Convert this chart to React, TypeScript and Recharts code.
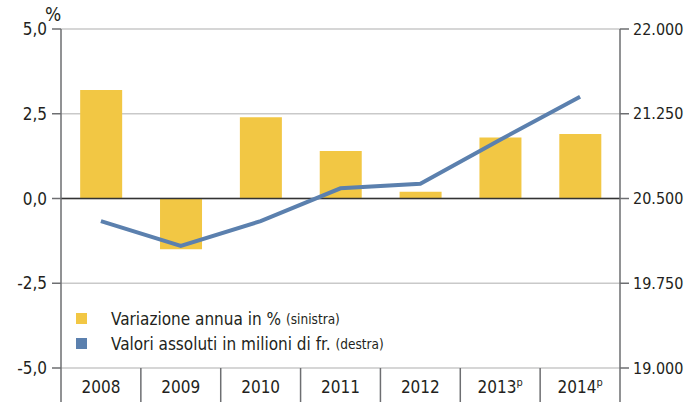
import React from "react";
import {
  Bar,
  CartesianGrid,
  ComposedChart,
  Line,
  ReferenceLine,
  XAxis,
  YAxis,
} from "recharts";

const years = ["2008", "2009", "2010", "2011", "2012", "2013", "2014"];
const provisional = [false, false, false, false, false, true, true];
const changePct = [3.2, -1.5, 2.4, 1.4, 0.2, 1.8, 1.9];
const absoluteMio = [20300, 20080, 20300, 20590, 20630, 21020, 21400];
const leftTicks = [-5, -2.5, 0, 2.5, 5];
const rightTicks = [19000, 19750, 20500, 21250, 22000];

const data = years.map((year, i) => ({
  year,
  provisional: provisional[i],
  change: changePct[i],
  absolute: absoluteMio[i],
}));

const W = 688;
const H = 405;
const PLOT_LEFT = 61;
const PLOT_RIGHT = 620;
const PLOT_TOP = 29;
const PLOT_BOTTOM = 368;
const BAND = (PLOT_RIGHT - PLOT_LEFT) / years.length;

const FONT = "'Liberation Sans Narrow', 'Arial Narrow', 'DejaVu Sans Condensed', sans-serif";
const TEXT = "#231f20";
const YELLOW = "#f2c744";
const BLUE = "#5b80ae";
const AXIS = "#6d6e71";

const fmtLeft = (v: number) => v.toFixed(1).replace(".", ",");
const fmtRight = (v: number) => v.toLocaleString("de-DE");

function YearTick(props: any) {
  const { x, payload, index } = props;
  const row = data[index];
  const left = x - BAND / 2;
  return (
    <g>
      <line x1={left} x2={left} y1={PLOT_BOTTOM} y2={H - 3} stroke={AXIS} strokeWidth={1.5} />
      {index === years.length - 1 && (
        <line x1={x + BAND / 2} x2={x + BAND / 2} y1={PLOT_BOTTOM} y2={H - 3} stroke={AXIS} strokeWidth={1.5} />
      )}
      <text x={x} y={393} textAnchor="middle" fontFamily={FONT} fontSize={17} fill={TEXT}>
        {payload.value}
        {row && row.provisional && (
          <tspan fontSize={11} dy={-7}>
            p
          </tspan>
        )}
      </text>
    </g>
  );
}

function LegendBox() {
  const items = [
    { color: YELLOW, label: "Variazione annua in %", note: "(sinistra)" },
    { color: BLUE, label: "Valori assoluti in milioni di fr.", note: "(destra)" },
  ];
  return (
    <div style={{ position: "absolute", left: 76, top: 306, fontFamily: FONT, color: TEXT }}>
      {items.map((it) => (
        <div key={it.label} style={{ display: "flex", alignItems: "center", height: 25 }}>
          <span style={{ width: 11, height: 11, backgroundColor: it.color, marginRight: 24 }} />
          <span style={{ fontSize: 17 }}>{it.label}</span>
          <span style={{ fontSize: 13.5, marginLeft: 5 }}>{it.note}</span>
        </div>
      ))}
    </div>
  );
}

export default function App() {
  return (
    <div style={{ position: "absolute", left: 0, top: 0, width: W, height: H, background: "#fff" }}>
      <ComposedChart
        width={W}
        height={H}
        data={data}
        margin={{ top: PLOT_TOP, right: 0, left: 0, bottom: 0 }}
        barCategoryGap="24%"
      >
        <CartesianGrid yAxisId="left" vertical={false} stroke="#c9c9c9" strokeWidth={1.5} />
        <XAxis
          dataKey="year"
          axisLine={false}
          tickLine={false}
          interval={0}
          height={H - PLOT_BOTTOM}
          tick={<YearTick />}
        />
        <YAxis
          yAxisId="left"
          orientation="left"
          width={PLOT_LEFT}
          domain={[-5, 5]}
          ticks={leftTicks}
          tickFormatter={fmtLeft}
          axisLine={{ stroke: AXIS, strokeWidth: 1.5 }}
          tickLine={{ stroke: AXIS, strokeWidth: 1.5 }}
          tickSize={9}
          tickMargin={5}
          tick={{ fontFamily: FONT, fontSize: 17, fill: TEXT }}
        />
        <YAxis
          yAxisId="right"
          orientation="right"
          width={W - PLOT_RIGHT}
          domain={[19000, 22000]}
          ticks={rightTicks}
          tickFormatter={fmtRight}
          axisLine={{ stroke: AXIS, strokeWidth: 1.5 }}
          tickLine={{ stroke: AXIS, strokeWidth: 1.5 }}
          tickSize={9}
          tickMargin={4}
          tick={{ fontFamily: FONT, fontSize: 16, fill: TEXT }}
        />
        <Bar yAxisId="left" dataKey="change" fill={YELLOW} isAnimationActive={false} />
        <ReferenceLine yAxisId="left" y={0} stroke="#333" strokeWidth={1.5} />
        <Line
          yAxisId="right"
          dataKey="absolute"
          stroke={BLUE}
          strokeWidth={4}
          dot={false}
          activeDot={false}
          isAnimationActive={false}
        />
      </ComposedChart>
      <div style={{ position: "absolute", left: 45, top: 3, fontFamily: FONT, fontSize: 19, color: TEXT }}>%</div>
      <LegendBox />
    </div>
  );
}
